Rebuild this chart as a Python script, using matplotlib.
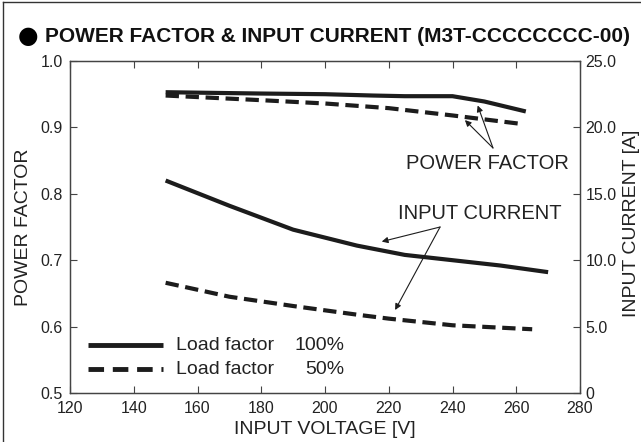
import matplotlib
matplotlib.use('Agg')
import matplotlib.pyplot as plt
from matplotlib.lines import Line2D

plt.rcParams['font.family'] = ['Liberation Sans', 'DejaVu Sans']

# input voltage [V] / power factor
pf100_v = [150, 180, 200, 215, 225, 240, 250, 263]
pf100 = [0.953, 0.951, 0.950, 0.948, 0.947, 0.947, 0.939, 0.924]
pf50_v = [150, 180, 200, 220, 240, 262]
pf50 = [0.948, 0.941, 0.936, 0.929, 0.918, 0.905]

# input voltage [V] / input current [A]
cur100_v = [150, 170, 190, 200, 210, 225, 240, 255, 270]
cur100 = [16.0, 14.1, 12.3, 11.7, 11.1, 10.4, 10.0, 9.6, 9.1]
cur50_v = [150, 170, 190, 210, 220, 240, 265]
cur50 = [8.3, 7.25, 6.55, 5.9, 5.6, 5.1, 4.8]

xticks = [120, 140, 160, 180, 200, 220, 240, 260, 280]
pf_ticks = [0.5, 0.6, 0.7, 0.8, 0.9, 1.0]
pf_labels = ['0.5', '0.6', '0.7', '0.8', '0.9', '1.0']
cur_ticks = [0, 5, 10, 15, 20, 25]
cur_labels = ['0', '5.0', '10.0', '15.0', '20.0', '25.0']

c = '#1c1c1c'
tc = '#222222'

fig = plt.figure(figsize=(6.41, 4.42), dpi=100)
ax = fig.add_axes([70 / 641, 1 - 393 / 442, 510 / 641, 332 / 442])
ax2 = ax.twinx()

ax.plot(pf100_v, pf100, color=c, lw=3.0, solid_capstyle='butt')
ax.plot(pf50_v, pf50, color=c, lw=3.0, dashes=(3.2, 1.6))
ax2.plot(cur100_v, cur100, color=c, lw=3.0, solid_capstyle='butt')
ax2.plot(cur50_v, cur50, color=c, lw=3.0, dashes=(3.2, 1.6))

ax.set_xlim(120, 280)
ax.set_ylim(0.5, 1.0)
ax2.set_ylim(0, 25)
ax.set_xticks(xticks)
ax.set_xticklabels([str(x) for x in xticks])
ax.set_yticks(pf_ticks)
ax.set_yticklabels(pf_labels)
ax2.set_yticks(cur_ticks)
ax2.set_yticklabels(cur_labels)

ax.tick_params(axis='x', direction='in', top=True, length=5, width=0.8, colors='#444444',
               labelcolor=tc, labelsize=11.5, pad=6)
ax.tick_params(axis='y', direction='in', right=False, length=5, width=0.8, colors='#444444',
               labelcolor=tc, labelsize=11.5, pad=5)
ax2.tick_params(axis='y', direction='in', length=5, width=0.8, colors='#444444',
                labelcolor=tc, labelsize=11.5, pad=4)
for a in (ax, ax2):
    for s in a.spines.values():
        s.set_color('#444444')
        s.set_linewidth(0.9)

ax.set_xlabel('INPUT VOLTAGE [V]', fontsize=14, color=tc, labelpad=3)
ax.set_ylabel('POWER FACTOR', fontsize=14, color=tc, labelpad=6)
ax2.set_ylabel('INPUT CURRENT [A]', fontsize=14, color=tc, labelpad=0)
ax2.yaxis.set_label_coords(1.085, 0.51)

# annotations
arw = dict(arrowstyle='-|>', color=c, lw=0.8, mutation_scale=9, shrinkA=0, shrinkB=0)
ax.annotate('', xy=(247.9, 0.933), xytext=(252.7, 0.869), arrowprops=arw)
ax.annotate('', xy=(243.9, 0.911), xytext=(252.7, 0.869), arrowprops=arw)
ax.text(251.1, 0.846, 'POWER FACTOR', fontsize=14.5, color=tc, ha='center', va='center')

ax.annotate('', xy=(217.8, 0.728), xytext=(236.1, 0.750), arrowprops=arw)
ax.annotate('', xy=(222.0, 0.625), xytext=(236.1, 0.750), arrowprops=arw)
ax.text(248.6, 0.771, 'INPUT CURRENT', fontsize=14.5, color=tc, ha='center', va='center')

# legend
h1 = Line2D([125.6, 149.2], [0.572, 0.572], color=c, lw=3.5, solid_capstyle='butt')
h2 = Line2D([125.6, 149.2], [0.536, 0.536], color=c, lw=3.5, dashes=(3.2, 1.8))
ax.add_line(h1)
ax.add_line(h2)
ax.text(153.2, 0.572, 'Load factor', fontsize=14, color=tc, va='center')
ax.text(206.0, 0.572, '100%', fontsize=14, color=tc, va='center', ha='right')
ax.text(153.2, 0.536, 'Load factor', fontsize=14, color=tc, va='center')
ax.text(206.0, 0.536, '50%', fontsize=14, color=tc, va='center', ha='right')

# title and frame
fig.text(18 / 641, 1 - 36 / 442, '\u25cf', fontsize=17, color='black', va='center',
         family=['DejaVu Sans'])
fig.text(45 / 641, 1 - 36 / 442, 'POWER FACTOR & INPUT CURRENT (M3T-CCCCCCCC-00)',
         fontsize=15, fontweight='bold', color='#111111', va='center')
fig.add_artist(Line2D([3 / 641, 3 / 641], [0, 1 - 2 / 442], transform=fig.transFigure,
                      color='#333333', lw=1.0))
fig.add_artist(Line2D([3 / 641, 1], [1 - 2 / 442, 1 - 2 / 442], transform=fig.transFigure,
                      color='#333333', lw=1.0))

fig.savefig('out.png', dpi=100)
